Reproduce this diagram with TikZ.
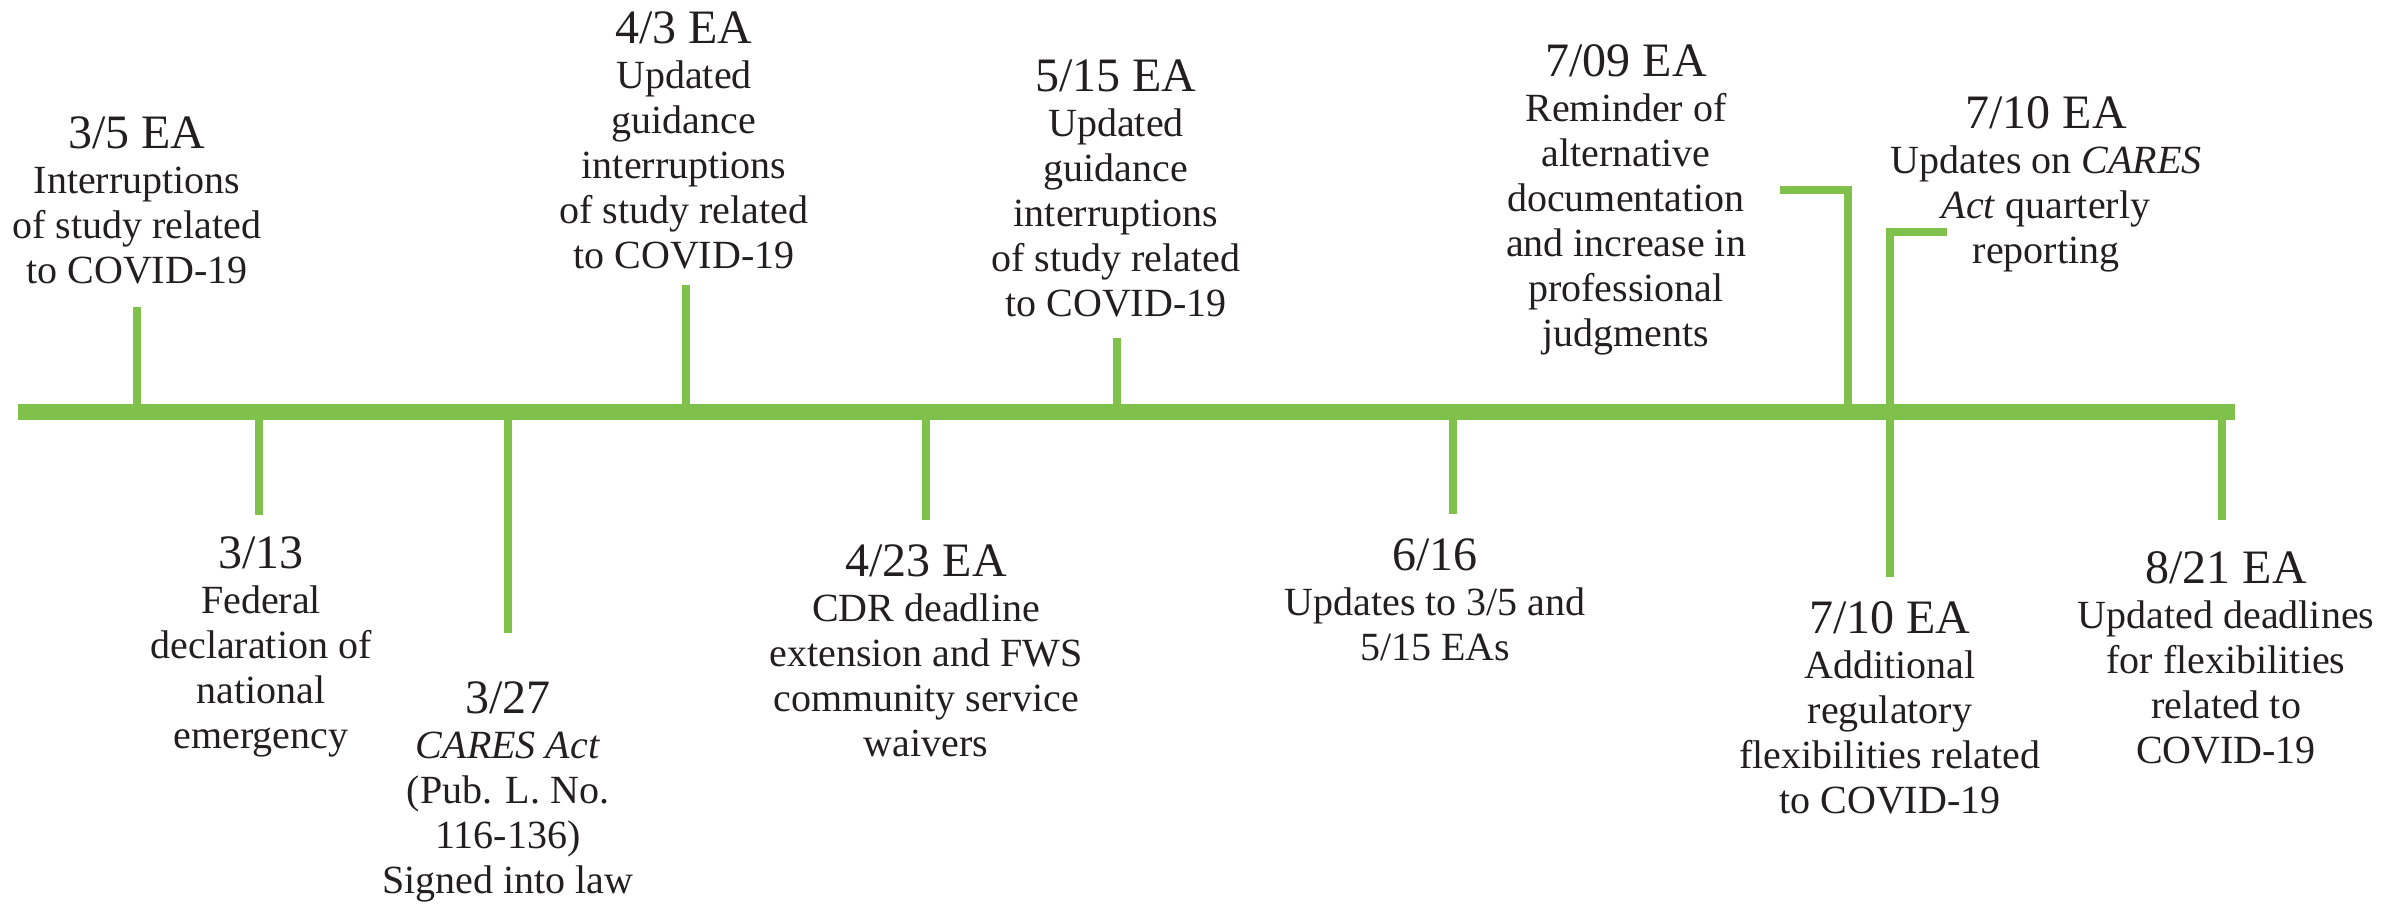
\documentclass[tikz,border=0pt]{standalone}
\usepackage{fontspec}
\setmainfont{Liberation Serif}
\definecolor{tlgreen}{RGB}{128,193,75}
\definecolor{ink}{RGB}{35,31,32}
\newcommand\datef{\fontsize{48}{45}\selectfont}
\newcommand\bodyf{\fontsize{40}{45}\selectfont}
\begin{document}
\begin{tikzpicture}[x=1pt,y=-1pt,
  bar/.style={line width=16pt, tlgreen},
  tickline/.style={line width=8pt, tlgreen, line join=miter},
  % anchored at the baseline of the last text line
  event/.style={anchor=base, align=center, inner sep=0pt, text=ink, font=\bodyf}]
\useasboundingbox (0,0) rectangle (2392,913);

% main timeline
\coordinate (barL) at (18,412);
\coordinate (barR) at (2235,412);
\draw[bar] (barL) -- (barR);

% tick marks: foot on the bar, free end away from it
\coordinate (b1) at (137,412);  \coordinate (e1) at (137,307);
\coordinate (b2) at (259,412);  \coordinate (e2) at (259,515);
\coordinate (b3) at (508,412);  \coordinate (e3) at (508,633);
\coordinate (b4) at (686,412);  \coordinate (e4) at (686,285);
\coordinate (b5) at (926,412);  \coordinate (e5) at (926,520);
\coordinate (b6) at (1117,412); \coordinate (e6) at (1117,338);
\coordinate (b7) at (1453,412); \coordinate (e7) at (1453,514);
\coordinate (b8) at (1848,412); \coordinate (k8) at (1848,190); \coordinate (e8) at (1780,190);
\coordinate (k9) at (1890,232); \coordinate (e9) at (1947,232); \coordinate (f9) at (1890,577);
\coordinate (b10) at (2222,412); \coordinate (e10) at (2222,520);

\foreach \i in {1,...,7,10} \draw[tickline] (b\i) -- (e\i);
\draw[tickline] (b8) -- (k8) -- (e8);
\draw[tickline] (e9) -- (k9) -- (f9);

% events above the line
\node[event] (ev35) at (137,283) {{\datef 3/5 EA}\\Interruptions\\of study related\\to COVID-19};
\node[event] (ev43) at (684,268) {{\datef 4/3 EA}\\Updated\\guidance\\interruptions\\of study related\\to COVID-19};
\node[event] (ev515) at (1116,316) {{\datef 5/15 EA}\\Updated\\guidance\\interruptions\\of study related\\to COVID-19};
\node[event] (ev709) at (1626,346) {{\datef 7/09 EA}\\Reminder of\\alternative\\documentation\\and increase in\\professional\\judgments};
\node[event] (ev710a) at (2046,263) {{\datef 7/10 EA}\\Updates on \textit{CARES}\\\textit{Act} quarterly\\reporting};

% events below the line
\node[event] (ev313) at (261,748) {{\datef 3/13}\\Federal\\declaration of\\national\\emergency};
\node[event] (ev327) at (508,893) {{\datef 3/27}\\\textit{CARES Act}\\(Pub. L. No.\\116-136)\\Signed into law};
\node[event] (ev423) at (926,756) {{\datef 4/23 EA}\\CDR deadline\\extension and FWS\\community service\\waivers};
\node[event] (ev616) at (1435,660) {{\datef 6/16}\\Updates to 3/5 and\\5/15 EAs};
\node[event] (ev710b) at (1890,813) {{\datef 7/10 EA}\\Additional\\regulatory\\flexibilities related\\to COVID-19};
\node[event] (ev821) at (2226,763) {{\datef 8/21 EA}\\Updated deadlines\\for flexibilities\\related to\\COVID-19};
\end{tikzpicture}
\end{document}
